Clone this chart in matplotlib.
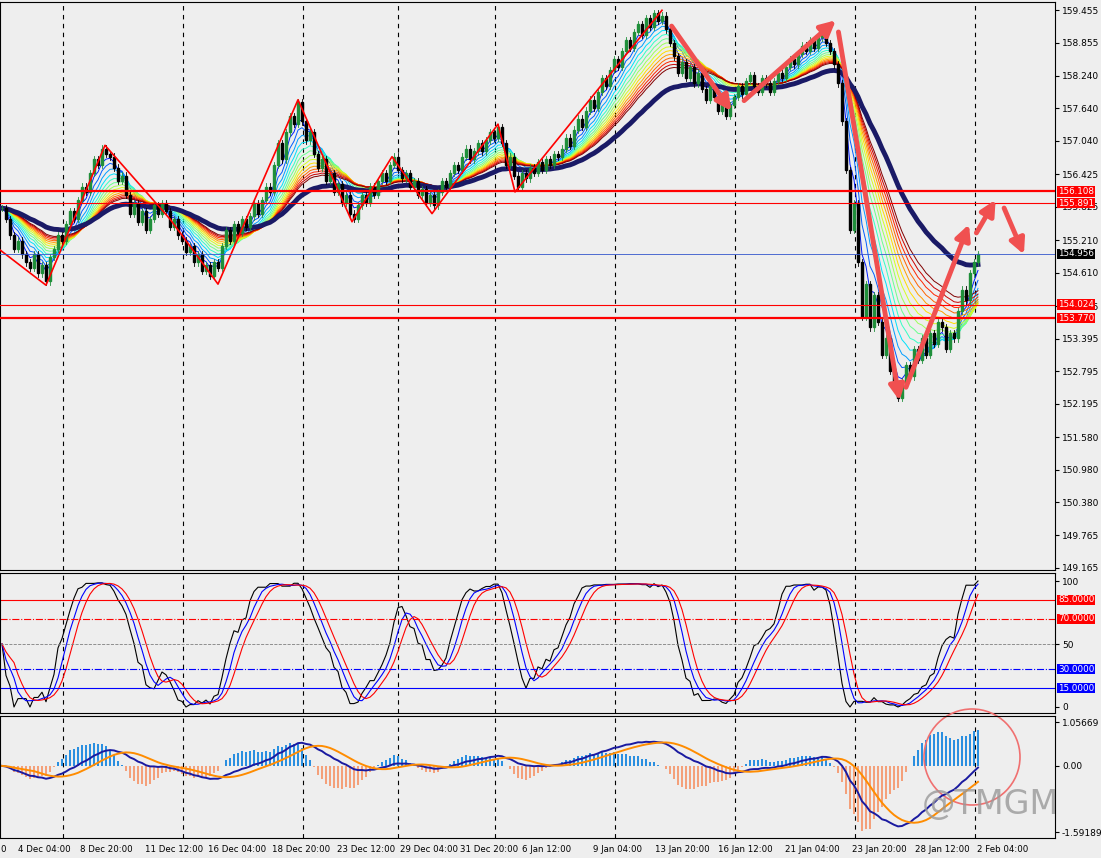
import numpy as np
import pandas as pd
import matplotlib
matplotlib.use("Agg")
import matplotlib.pyplot as plt
from matplotlib.patches import Rectangle, Ellipse

closes = [155.80,155.60,155.30,155.05,155.20,154.95,154.80,154.70,154.95,154.60,154.75,154.45,
 154.90,155.05,155.30,155.20,155.50,155.75,155.60,155.95,156.20,156.10,156.45,156.70,156.60,156.90,156.80,
 156.75,156.55,156.30,156.40,156.05,155.70,155.90,155.55,155.75,155.40,155.60,155.85,
 155.70,155.90,155.75,155.45,155.60,155.30,155.20,155.00,155.10,154.80,154.95,154.65,154.75,154.55,154.80,154.70,
 155.10,155.40,155.20,155.50,155.35,155.60,155.45,155.65,155.90,155.70,155.95,156.20,156.10,156.60,157.00,156.70,157.20,157.50,157.35,157.75,
 157.40,157.05,157.20,156.80,156.55,156.70,156.30,156.45,156.10,156.25,155.90,156.05,155.70,155.60,
 155.85,156.05,155.90,156.20,156.05,156.30,156.45,156.30,156.60,156.75,
 156.50,156.35,156.45,156.20,156.30,156.05,156.15,155.90,156.05,155.85,
 156.10,156.30,156.20,156.45,156.60,156.50,156.75,156.90,156.70,156.85,157.00,156.85,157.05,157.20,157.10,157.30,
 157.00,156.60,156.75,156.40,156.20,156.45,
 156.35,156.55,156.45,156.65,156.50,156.70,156.60,156.80,156.75,156.90,157.10,156.95,157.25,157.45,157.30,157.60,157.80,157.65,157.95,158.20,158.05,158.35,158.55,158.40,158.70,158.90,158.75,159.05,159.20,159.00,159.30,159.15,159.40,159.25,159.35,
 159.10,158.85,158.60,158.30,158.50,158.20,158.40,158.10,158.30,158.00,157.80,158.05,157.85,157.60,157.75,157.50,157.70,157.85,
 158.05,157.90,158.15,158.25,158.05,157.95,158.20,158.10,157.95,158.15,158.30,158.20,158.40,158.55,158.45,158.65,158.80,158.70,158.90,158.75,158.95,159.10,158.85,158.70,158.45,
 158.10,157.40,156.50,155.40,155.90,154.80,153.80,154.40,153.60,154.20,153.70,153.10,153.40,152.80,152.50,152.30,152.60,
 152.90,152.70,153.20,153.00,153.40,153.10,153.50,153.30,153.70,153.60,153.20,153.50,153.40,153.90,154.30,154.10,154.60,154.80,154.95]

price_ticks = [159.455,158.855,158.240,157.640,157.040,156.425,155.825,155.210,154.610,153.995,
               153.395,152.795,152.195,151.580,150.980,150.380,149.765,149.165]
levels_red = [156.108, 155.891, 154.024, 153.770]
level_blue = 154.956
zigzag_x = [0, 46, 105, 170, 218, 298, 352, 392, 432, 498, 515, 662]
zigzag_p = [155.03, 154.38, 156.96, 155.60, 154.40, 157.80, 155.55, 156.75, 155.70, 157.35, 156.10, 159.45]
date_labels = ["0", "4 Dec 04:00", "8 Dec 20:00", "11 Dec 12:00", "16 Dec 04:00", "18 Dec 20:00",
               "23 Dec 12:00", "29 Dec 04:00", "31 Dec 20:00", "6 Jan 12:00", "9 Jan 04:00",
               "13 Jan 20:00", "16 Jan 12:00", "21 Jan 04:00", "23 Jan 20:00", "28 Jan 12:00", "2 Feb 04:00"]
date_label_x = [-3, 18, 80, 145, 208, 272, 337, 400, 460, 522, 593, 655, 718, 785, 852, 915, 977]
vgrid_x = [63, 183, 303, 398, 495, 615, 735, 855, 975]
stoch_levels = [85, 70, 30, 15]
macd_ticks = [1.05669, 0.00, -1.59189]

W, H = 1101, 858
fig = plt.figure(figsize=(W/100, H/100), dpi=100)
BG = '#EEEEEE'
fig.patch.set_facecolor(BG)
R = 1055
def ax_at(top, bot):
    a = fig.add_axes([0, 1-bot/H, R/W, (bot-top)/H])
    a.set_facecolor(BG)
    a.set_xlim(0, R)
    a.yaxis.tick_right()
    a.tick_params(axis='y', labelsize=6.5, length=3, pad=2)
    a.set_xticks([])
    for s in a.spines.values():
        s.set_color('black'); s.set_linewidth(0.8)
    for x in vgrid_x:
        a.axvline(x, color='black', lw=0.8, ls=(0, (4, 4)), zorder=0)
    return a

def tag(a, v, txt, fc):
    a.text(R+3, v, txt, fontsize=6.3, color='white', va='center', ha='left', clip_on=False,
           bbox=dict(boxstyle='square,pad=0.08', fc=fc, ec='none'), zorder=10)

c = pd.Series(closes)
n = len(c)
xs = 2 + 4*np.arange(n)

# main panel
ax = ax_at(2, 570)
ax.set_ylim(159.455 - 560*0.018441, 159.455 + 8*0.018441)
ax.set_yticks(price_ticks)
ax.set_yticklabels([f"{t:.3f}" for t in price_ticks])
periods = list(range(4, 32, 2))
cmap = plt.get_cmap('jet')
for k, p in enumerate(periods):
    ax.plot(xs, c.ewm(span=p, adjust=False).mean(), color=cmap(0.15 + k/(len(periods)-1)*0.85), lw=0.7, zorder=2)
ax.plot(xs, c.ewm(span=45, adjust=False).mean(), color='#1a1a66', lw=3.5, zorder=3)
opens = np.r_[closes[0], closes[:-1]]
for i in range(n):
    o, cl = opens[i], closes[i]
    lo, hi = min(o, cl), max(o, cl)
    col = '#1f8f3a' if cl >= o else 'black'
    ax.add_patch(Rectangle((xs[i]-1.2, lo), 2.4, max(hi-lo, 0.01), color=col, zorder=4))
    ax.plot([xs[i], xs[i]], [lo-0.06, hi+0.06], color=col, lw=0.6, zorder=4)
ax.plot(zigzag_x, zigzag_p, color='red', lw=1.2, zorder=5)
ax.axhline(levels_red[0], color='red', lw=1.6, zorder=5)
ax.axhline(levels_red[1], color='red', lw=0.8, zorder=5)
ax.axhline(levels_red[2], color='red', lw=0.8, zorder=5)
ax.axhline(levels_red[3], color='red', lw=1.6, zorder=5)
ax.axhline(level_blue, color='#3355cc', lw=0.6, zorder=5)
for v in levels_red:
    tag(ax, v, f"{v:.3f}", 'red')
tag(ax, level_blue, f"{level_blue:.3f}", 'black')
arrows = [((670, 159.2), (733, 157.55)), ((742, 157.75), (838, 159.30)),
          ((838, 159.10), (900, 152.20)), ((905, 152.45), (970, 155.55)),
          ((975, 155.30), (997, 156.0)), ((1003, 155.85), (1025, 154.90))]
for (x0, y0), (x1, y1) in arrows:
    ax.annotate('', xy=(x1, y1), xytext=(x0, y0),
                arrowprops=dict(arrowstyle='-|>,head_length=0.9,head_width=0.45', color='#f05050', lw=3.5),
                zorder=6, annotation_clip=False)

# stochastic panel
ax2 = ax_at(573, 713)
ax2.set_ylim(0 - 6*0.794, 100 + 8*0.794)
ax2.set_yticks([100, 50, 0])
ax2.set_yticklabels(['100', '50', '0'])
lowN = c.rolling(21, min_periods=1).min(); highN = c.rolling(21, min_periods=1).max()
K = 100*(c-lowN)/(highN-lowN).replace(0, np.nan)
K = K.fillna(50).rolling(3, min_periods=1).mean()
Kb = K.rolling(4, min_periods=1).mean()
Kr = Kb.rolling(4, min_periods=1).mean()
ax2.plot(xs, K, color='black', lw=0.8)
ax2.plot(xs, Kb, color='blue', lw=0.8)
ax2.plot(xs, Kr, color='red', lw=0.8)
ax2.axhline(85, color='red', lw=0.8)
ax2.axhline(70, color='red', lw=0.8, ls='-.')
ax2.axhline(50, color='gray', lw=0.6, ls='--')
ax2.axhline(30, color='blue', lw=0.8, ls='-.')
ax2.axhline(15, color='blue', lw=0.8)
for v in stoch_levels:
    tag(ax2, v, f"{v:.4f}", 'red' if v > 50 else 'blue')

# MACD panel
ax3 = ax_at(716, 838)
ax3.set_ylim(-1.59189 - 6*0.024078, 1.05669 + 6*0.024078)
ax3.set_yticks(macd_ticks)
ax3.set_yticklabels(['1.05669', '0.00', '-1.59189'])
macd = c.ewm(span=12, adjust=False).mean() - c.ewm(span=26, adjust=False).mean()
sig = macd.rolling(9, min_periods=1).mean()
hist = (macd - sig)*2.5
ax3.bar(xs, hist, width=2.6, color=np.where(hist >= 0, '#2a8fe0', '#f4a07a'))
ax3.plot(xs, macd, color='#1a1aa0', lw=1.4)
ax3.plot(xs, sig, color='#ff8c00', lw=1.4)
circ = Ellipse((972, 1.05669 - (757-722)*0.024078), 96, 96*0.024078, fill=False,
               ec='#f07070', lw=1.2, clip_on=False)
ax3.add_patch(circ)
fig.text(990/W, 1-805/H, "@TMGM", fontsize=24, color='#999999', alpha=0.8, ha='center', va='center')

for lbl, x in zip(date_labels, date_label_x):
    fig.text(max(x, 0)/W, 1-850/H, lbl, fontsize=6.2, ha='left', va='center')

fig.savefig('out.png', dpi=100, facecolor=BG)
